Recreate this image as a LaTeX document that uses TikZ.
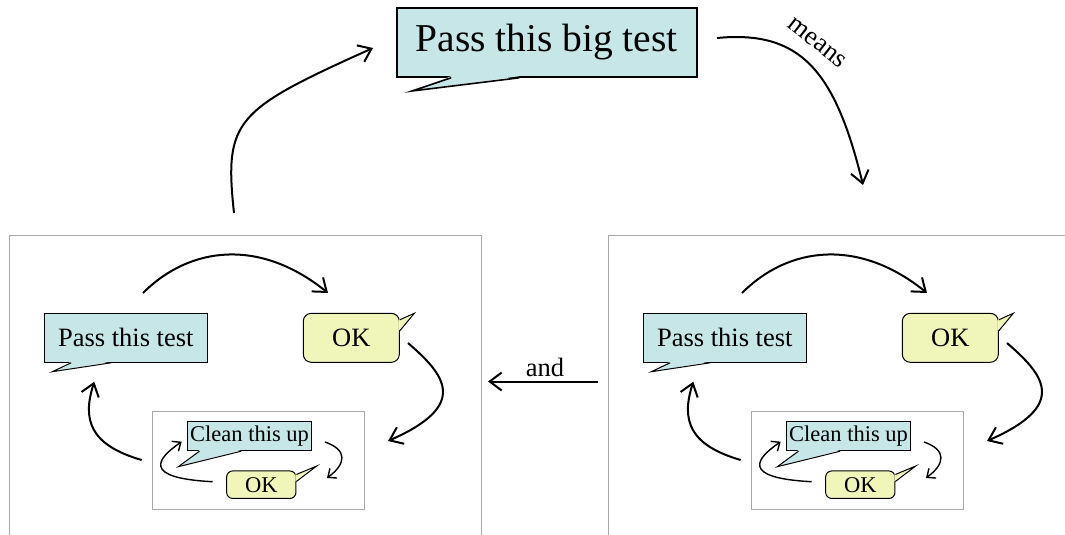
\documentclass[tikz,border=0pt]{standalone}
\usepackage{fontspec}
\setmainfont{Liberation Serif}
\usetikzlibrary{arrows.meta,calc}

\definecolor{bubblecyan}{RGB}{198,230,232}
\definecolor{bubbleyellow}{RGB}{240,245,186}
\definecolor{framegray}{RGB}{168,168,168}

\tikzset{
  bubble/.style={draw=black, line width=1pt, inner sep=0pt, text=black},
  cyanbubble/.style={bubble, fill=bubblecyan},
  okbubble/.style={bubble, fill=bubbleyellow, rounded corners=#1},
  tailline/.style={line width=1pt, line join=miter},
  frame/.style={draw=framegray, line width=1pt, inner sep=0pt},
  bigfont/.style={font=\fontsize{39.5}{44}\selectfont},
  midfont/.style={font=\fontsize{26.5}{30}\selectfont},
  smallfont/.style={font=\fontsize{22.5}{26}\selectfont},
  bigarrow/.style={line width=2pt, -{Straight Barb[length=12pt,width=18pt]}},
  smallarrow/.style={line width=1.4pt, -{Straight Barb[length=7pt,width=12pt]}},
}

% speech-bubble tail: colour, first base point, apex, second base point, inward shift
\newcommand\bubbletail[5]{%
  \fill[#1] ($(#2)+#5$) -- (#3) -- ($(#4)+#5$) -- cycle;
  \draw[tailline] (#2) -- (#3) -- (#4);}

% one panel: test -> OK -> (clean up <-> OK) -> test
\newcommand\cyclepanel{%
  \node[frame, minimum width=472pt, minimum height=320pt] (panel) at (236,160) {};
  \node[frame, minimum width=212pt, minimum height=97.6pt] (inner) at (249.3,225.5) {};
  % bubbles
  \node[cyanbubble, midfont, minimum width=163pt, minimum height=49pt] (test) at (116.8,102.8) {Pass this test};
  \coordinate (testA) at ($(test.south west)+(27.4,0)$);
  \coordinate (testB) at ($(test.south west)+(67.4,0)$);
  \coordinate (testT) at (43.3,136.7);
  \bubbletail{bubblecyan}{testA}{testT}{testB}{(0,-1.2)}
  \node[okbubble=8pt, midfont, minimum width=96pt, minimum height=49pt] (ok) at (342.3,102.8) {OK};
  \coordinate (okA) at ($(ok.north east)+(0,7)$);
  \coordinate (okB) at ($(ok.north east)+(0,18)$);
  \coordinate (okT) at (405.3,78.3);
  \bubbletail{bubbleyellow}{okA}{okT}{okB}{(-1.2,0)}
  \node[cyanbubble, smallfont, minimum width=124.4pt, minimum height=29pt] (clean) at (240.5,201.2) {Clean this up};
  \coordinate (cleanA) at ($(clean.south west)+(12.7,0)$);
  \coordinate (cleanB) at ($(clean.south west)+(54.4,0)$);
  \coordinate (cleanT) at (169.3,231.7);
  \bubbletail{bubblecyan}{cleanA}{cleanT}{cleanB}{(0,-1.2)}
  \node[okbubble=6pt, smallfont, minimum width=69.3pt, minimum height=27.5pt] (fine) at (252.3,249.7) {OK};
  \coordinate (fineA) at ($(fine.north east)+(0,4)$);
  \coordinate (fineB) at ($(fine.north east)+(0,11)$);
  \coordinate (fineT) at (307.7,231);
  \bubbletail{bubbleyellow}{fineA}{fineT}{fineB}{(-1.2,0)}
  % connectors
  \coordinate (s1) at (134,58);   \coordinate (e1) at (319,58);
  \draw[bigarrow] (s1) .. controls (181,11) and (251,3) .. (e1);
  \coordinate (s2) at (399,108);  \coordinate (e2) at (379,206);
  \draw[bigarrow] (s2) .. controls (436,140) and (461,170) .. (e2);
  \coordinate (s3) at (132.7,225); \coordinate (e3) at (85.3,146.7);
  \draw[bigarrow] (s3) .. controls (81,210) and (73,185) .. (e3);
  \coordinate (s4) at (316,207);  \coordinate (e4) at (318,243);
  \draw[smallarrow] (s4) .. controls (339,215) and (337,229) .. (e4);
  \coordinate (s5) at (203.7,246.7); \coordinate (e5) at (172.7,206.7);
  \draw[smallarrow] (s5) .. controls (131,243) and (149,223) .. (e5);
}

\begin{document}
\begin{tikzpicture}[x=1pt, y=-1pt]
  \useasboundingbox (0,0) rectangle (1065,535);
  \clip (0,0) rectangle (1065,535);

  \begin{scope}[shift={(9,235)}, name prefix=L-]
    \cyclepanel
  \end{scope}
  \begin{scope}[shift={(608,235)}, name prefix=R-]
    \cyclepanel
  \end{scope}

  % the big test
  \node[cyanbubble, line width=1.6pt, bigfont, minimum width=300pt, minimum height=69pt] (big) at (546.7,42.5) {Pass this big test};
  \coordinate (bigA) at ($(big.south west)+(55.3,0)$);
  \coordinate (bigB) at ($(big.south west)+(123.3,0)$);
  \coordinate (bigT) at (412,91);
  \fill[bubblecyan] ($(bigA)+(0,-1.6)$) -- (bigT) -- ($(bigB)+(0,-1.6)$) -- cycle;
  \draw[tailline, line width=1.6pt] (bigA) -- (bigT) -- (bigB);

  % links between the panels and the big test
  \coordinate (upS) at (234,213); \coordinate (upE) at (373,48);
  \draw[bigarrow] (upS) .. controls (224,120) and (235,110) .. (upE);
  \coordinate (downS) at (717,38); \coordinate (downE) at (863,185);
  \draw[bigarrow] (downS) .. controls (800,30) and (835,70) .. (downE);
  \node[midfont, rotate=-38] (means) at (817,43) {means};
  \coordinate (andS) at (598,381.5); \coordinate (andE) at (488,381.5);
  \draw[bigarrow] (andS) -- (andE);
  \node[midfont, anchor=base] (and) at (545,376) {and};
\end{tikzpicture}
\end{document}
